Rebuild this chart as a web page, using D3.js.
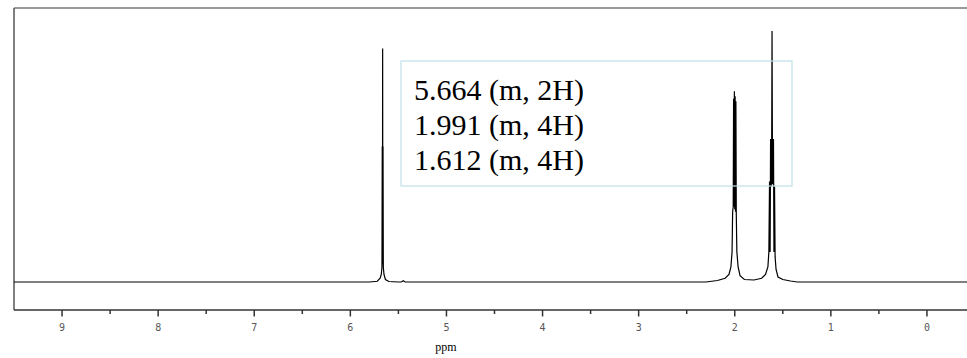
<!DOCTYPE html>
<html>
<head>
<meta charset="utf-8">
<script src="https://cdn.jsdelivr.net/npm/d3@7"></script>
<style>
  body { margin: 0; background: #fff; }
  svg { display: block; }
</style>
</head>
<body>
<div id="spectrum"></div>
<script>
// ppm tick labels and the spectrum trace [ppm, intensity]
var majorTicks = [9, 8, 7, 6, 5, 4, 3, 2, 1, 0];
var minorTicks = [8.5, 7.5, 6.5, 5.5, 4.5, 3.5, 2.5, 1.5, 0.5];

var peak5664 = [
    [9.5, 0], [5.80, 0], [5.72, 0.3], [5.69, 1.5], [5.678, 3], [5.671, 6],
    [5.668, 54], [5.666, 7], [5.664, 93], [5.662, 8], [5.660, 54],
    [5.657, 6], [5.650, 3], [5.635, 1], [5.60, 0.2], [5.50, 0],
    [5.47, 0], [5.45, 0.5], [5.43, 0]
];
var peak1991 = [
    [2.30, 0], [2.18, 0.6], [2.10, 1.5], [2.06, 3], [2.04, 6], [2.028, 12],
    [2.022, 28], [2.016, 30], [2.012, 73], [2.008, 30], [2.004, 76],
    [2.000, 29], [1.996, 74], [1.992, 28], [1.988, 72], [1.984, 27],
    [1.978, 12], [1.965, 6], [1.945, 2.5], [1.90, 1], [1.80, 0.8], [1.72, 1.5]
];
var peak1612 = [
    [1.68, 3], [1.655, 6], [1.645, 12], [1.638, 40], [1.632, 12],
    [1.627, 57], [1.622, 38], [1.617, 40], [1.612, 100], [1.607, 39],
    [1.602, 40], [1.597, 57], [1.592, 12], [1.586, 38], [1.580, 10],
    [1.570, 5], [1.55, 2], [1.50, 1], [1.42, 0.4], [1.35, 0], [-0.5, 0]
];
var assignments = ["5.664 (m, 2H)", "1.991 (m, 4H)", "1.612 (m, 4H)"];

var spectrum = peak5664.concat(peak1991, peak1612);

var width = 967, height = 358;
var margin = {top: 8, left: 14, bottom: 310};

var x = d3.scaleLinear()
    .domain([9.5, -0.5])
    .range([margin.left, 975]);

var y = d3.scaleLinear()
    .domain([0, 100])
    .range([282, 31]);

var svg = d3.select("#spectrum")
    .append("svg")
    .attr("width", width)
    .attr("height", height);

// frame
svg.append("line")
    .attr("x1", margin.left).attr("x2", width)
    .attr("y1", margin.top).attr("y2", margin.top)
    .attr("stroke", "#777").attr("stroke-width", 1.5);
svg.append("line")
    .attr("x1", margin.left).attr("x2", margin.left)
    .attr("y1", margin.top).attr("y2", margin.bottom)
    .attr("stroke", "#555").attr("stroke-width", 1.5);

// bottom axis
var axis = svg.append("g")
    .attr("transform", "translate(0," + margin.bottom + ")");
axis.append("line")
    .attr("x1", margin.left).attr("x2", width)
    .attr("stroke", "#333").attr("stroke-width", 1.5);

axis.selectAll(".major")
    .data(majorTicks)
    .enter().append("line")
    .attr("class", "major")
    .attr("x1", function(d) { return x(d); })
    .attr("x2", function(d) { return x(d); })
    .attr("y1", 0).attr("y2", 6.5)
    .attr("stroke", "#333").attr("stroke-width", 1.5);

axis.selectAll(".minor")
    .data(minorTicks)
    .enter().append("line")
    .attr("class", "minor")
    .attr("x1", function(d) { return x(d); })
    .attr("x2", function(d) { return x(d); })
    .attr("y1", 0).attr("y2", 4)
    .attr("stroke", "#333").attr("stroke-width", 1.5);

axis.selectAll(".tlabel")
    .data(majorTicks)
    .enter().append("text")
    .attr("class", "tlabel")
    .attr("x", function(d) { return x(d); })
    .attr("y", 21)
    .attr("text-anchor", "middle")
    .style("font-family", "DejaVu Sans Mono, monospace")
    .style("font-size", "10px")
    .style("fill", "#555")
    .text(function(d) { return d; });

svg.append("text")
    .attr("x", 446)
    .attr("y", 351)
    .attr("text-anchor", "middle")
    .style("font-family", "Liberation Serif, serif")
    .style("font-size", "12px")
    .text("ppm");

// spectrum trace
var line = d3.line()
    .x(function(d) { return x(d[0]); })
    .y(function(d) { return y(d[1]); });

svg.append("path")
    .datum(spectrum)
    .attr("d", line)
    .attr("fill", "none")
    .attr("stroke", "#000")
    .attr("stroke-width", 1.2);

// assignment box
svg.append("rect")
    .attr("x", 401).attr("y", 61)
    .attr("width", 391).attr("height", 125)
    .attr("fill", "none")
    .attr("stroke", "#bfe0ea").attr("stroke-width", 1.2);

svg.selectAll(".assign")
    .data(assignments)
    .enter().append("text")
    .attr("class", "assign")
    .attr("x", 414)
    .attr("y", function(d, i) { return 100 + i * 35; })
    .style("font-family", "Liberation Serif, serif")
    .style("font-size", "30px")
    .style("fill", "#000")
    .text(function(d) { return d; });
</script>
</body>
</html>
